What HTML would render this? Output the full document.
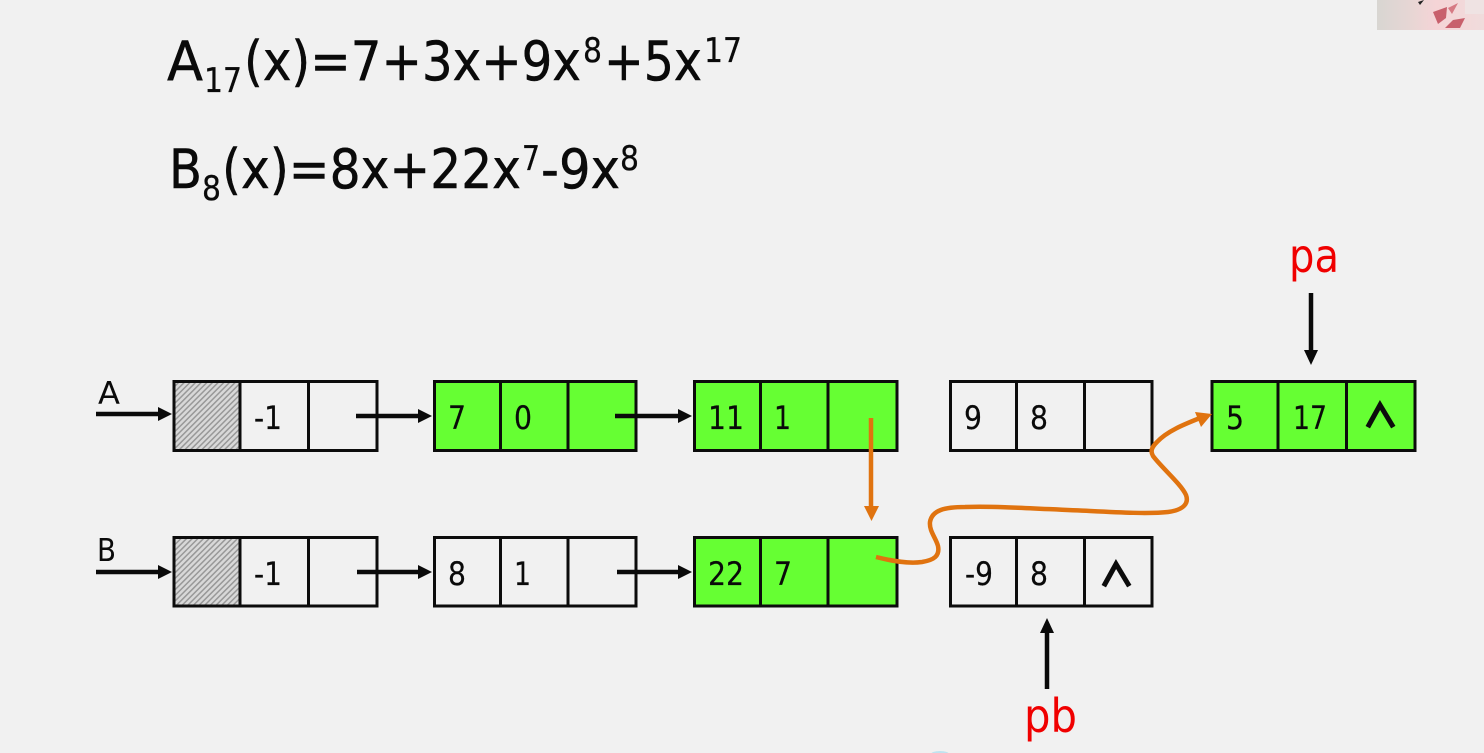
<!DOCTYPE html>
<html><head><meta charset="utf-8"><style>
html,body{margin:0;padding:0;background:#f1f1f1;overflow:hidden}
svg{display:block;filter:blur(0.35px)}
text{font-family:"DejaVu Sans","Liberation Sans",sans-serif;fill:#0a0a0a}
.c{font-size:32px;stroke:#0a0a0a;stroke-width:.2px}
.m{font-size:54px;stroke:#0a0a0a;stroke-width:.5px}
.s{font-size:34px;stroke:#0a0a0a;stroke-width:.3px}
</style></head><body>
<svg width="1484" height="753" viewBox="0 0 1484 753" xmlns="http://www.w3.org/2000/svg">
<defs>
<pattern id="h" width="4" height="4" patternUnits="userSpaceOnUse" patternTransform="rotate(-45)">
<rect width="4" height="4" fill="#d8d8d8"/><rect width="4" height="1.5" fill="#989898"/>
</pattern>
<linearGradient id="ph" x1="0" x2="1" y1="0" y2="0">
<stop offset="0" stop-color="#d8d6d2"/><stop offset=".3" stop-color="#e6d6d4"/><stop offset=".55" stop-color="#f5d4d6"/><stop offset="1" stop-color="#f0dcdc"/>
</linearGradient>
</defs>
<rect width="1484" height="753" fill="#f1f1f1"/>

<!-- photo corner -->
<rect x="1377" y="0" width="107" height="30" fill="url(#ph)"/>
<path d="M1433 12 L1447 7 L1446 18 L1438 24Z" fill="#c8606c"/>
<path d="M1445 28 L1453 20 L1465 18 L1460 28Z" fill="#c8606c"/>
<path d="M1448 8 L1458 3 L1452 14Z" fill="#d67a84"/>
<path d="M1418 2 L1424 0 L1420 5Z" fill="#222"/>
<rect x="1465" y="0" width="19" height="14" fill="#efe3e3"/>

<!-- equations -->
<g>
<text class="m" x="167" y="80" textLength="36" lengthAdjust="spacingAndGlyphs">A</text>
<text class="s" x="204" y="92" textLength="38" lengthAdjust="spacingAndGlyphs">17</text>
<text class="m" x="244" y="80" textLength="337" lengthAdjust="spacingAndGlyphs">(x)=7+3x+9x</text>
<text class="s" x="583" y="62" textLength="19" lengthAdjust="spacingAndGlyphs">8</text>
<text class="m" x="604" y="80" textLength="98" lengthAdjust="spacingAndGlyphs">+5x</text>
<text class="s" x="704" y="62" textLength="38" lengthAdjust="spacingAndGlyphs">17</text>

<text class="m" x="169" y="188" textLength="33" lengthAdjust="spacingAndGlyphs">B</text>
<text class="s" x="202" y="200" textLength="19" lengthAdjust="spacingAndGlyphs">8</text>
<text class="m" x="222" y="188" textLength="299" lengthAdjust="spacingAndGlyphs">(x)=8x+22x</text>
<text class="s" x="522" y="170" textLength="18" lengthAdjust="spacingAndGlyphs">7</text>
<text class="m" x="541" y="188" textLength="79" lengthAdjust="spacingAndGlyphs">-9x</text>
<text class="s" x="620" y="170" textLength="19" lengthAdjust="spacingAndGlyphs">8</text>
</g>

<!-- fills -->
<rect x="174" y="382" width="66" height="68" fill="url(#h)"/>
<rect x="174" y="538" width="66" height="67" fill="url(#h)"/>
<rect x="434" y="381" width="202" height="70" fill="#66ff33"/>
<rect x="694" y="381" width="203" height="70" fill="#66ff33"/>
<rect x="694" y="537" width="203" height="69" fill="#66ff33"/>
<rect x="1212" y="381" width="203" height="70" fill="#66ff33"/>

<!-- node outlines -->
<g fill="none" stroke="#0c0c0c" stroke-width="3">
<path d="M174 381.500H377V450.500H174ZM240 381.500V450.500M308.500 381.500V450.500"/>
<path d="M434.500 381.500H636V450.500H434.500ZM500.500 381.500V450.500M568 381.500V450.500"/>
<path d="M694.500 381.500H897V450.500H694.500ZM760.500 381.500V450.500M828 381.500V450.500"/>
<path d="M950.500 381.500H1152V450.500H950.500ZM1016.500 381.500V450.500M1084.500 381.500V450.500"/>
<path d="M1212 381.500H1415V450.500H1212ZM1278 381.500V450.500M1346.500 381.500V450.500"/>
<path d="M174 537.500H377V606H174ZM240 537.500V606M308.500 537.500V606"/>
<path d="M434.500 537.500H636V606H434.500ZM500.500 537.500V606M568 537.500V606"/>
<path d="M694.500 537.500H897V606H694.500ZM760.500 537.500V606M828 537.500V606"/>
<path d="M950.500 537.500H1152V606H950.500ZM1016.500 537.500V606M1084.500 537.500V606"/>
</g>

<!-- cell text -->
<g>
<text class="c" x="254" y="429" textLength="28" lengthAdjust="spacingAndGlyphs">-1</text>
<text class="c" x="448" y="429" textLength="18" lengthAdjust="spacingAndGlyphs">7</text>
<text class="c" x="514" y="429" textLength="18" lengthAdjust="spacingAndGlyphs">0</text>
<text class="c" x="708" y="429" textLength="36" lengthAdjust="spacingAndGlyphs">11</text>
<text class="c" x="774" y="429" textLength="17" lengthAdjust="spacingAndGlyphs">1</text>
<text class="c" x="964" y="429" textLength="18" lengthAdjust="spacingAndGlyphs">9</text>
<text class="c" x="1030" y="429" textLength="18" lengthAdjust="spacingAndGlyphs">8</text>
<text class="c" x="1226" y="429" textLength="18" lengthAdjust="spacingAndGlyphs">5</text>
<text class="c" x="1293" y="429" textLength="34" lengthAdjust="spacingAndGlyphs">17</text>
<text class="c" x="254" y="585" textLength="28" lengthAdjust="spacingAndGlyphs">-1</text>
<text class="c" x="448" y="585" textLength="18" lengthAdjust="spacingAndGlyphs">8</text>
<text class="c" x="514" y="585" textLength="17" lengthAdjust="spacingAndGlyphs">1</text>
<text class="c" x="708" y="585" textLength="36" lengthAdjust="spacingAndGlyphs">22</text>
<text class="c" x="774" y="585" textLength="18" lengthAdjust="spacingAndGlyphs">7</text>
<text class="c" x="965" y="585" textLength="28" lengthAdjust="spacingAndGlyphs">-9</text>
<text class="c" x="1030" y="585" textLength="18" lengthAdjust="spacingAndGlyphs">8</text>
<text x="98" y="404" font-size="31" textLength="22" lengthAdjust="spacingAndGlyphs">A</text>
<text x="97" y="561" font-size="31" textLength="19" lengthAdjust="spacingAndGlyphs">B</text>
</g>

<!-- carets -->
<g fill="none" stroke="#0c0c0c" stroke-width="5" stroke-linecap="square">
<path d="M1369 425L1380 405L1392 425"/>
<path d="M1105 584L1116 564L1128 584"/>
</g>

<!-- black arrows -->
<g stroke="#0a0a0a" stroke-width="4.500" fill="none">
<path d="M96 414H162"/>
<path d="M96 572H162"/>
<path d="M356 416H422"/>
<path d="M615 416H682"/>
<path d="M357 572H422"/>
<path d="M617 572H682"/>
<path d="M1311 293V352"/>
<path d="M1047 689V632"/>
</g>
<g fill="#0a0a0a">
<path d="M158 407L172 414L158 421Z"/>
<path d="M158 565L172 572L158 579Z"/>
<path d="M418 409L432 416L418 423Z"/>
<path d="M678 409L692 416L678 423Z"/>
<path d="M418 565L432 572L418 579Z"/>
<path d="M678 565L692 572L678 579Z"/>
<path d="M1304 350L1311 365L1318 350Z"/>
<path d="M1040 633L1047 618L1054 633Z"/>
</g>

<!-- orange -->
<g stroke="#e0730f" fill="none" stroke-width="4.500">
<path d="M871 418V508"/>
<path d="M876 557C892 561 908 564 922 562C934 560 940 556 938 546C936 538 929 531 930 522C932 510 945 507 965 507C1000 506 1040 509 1090 511C1120 512.500 1150 514 1168 512C1184 510 1189 503 1186 495C1181 484 1162 468 1153 456C1150 451 1152 447 1157 442C1167 431 1185 424 1200 418"/>
</g>
<path d="M864 506H879L871.500 521Z" fill="#e0730f"/>
<path d="M1195 412L1212 414L1201 427Z" fill="#e0730f"/>

<!-- labels -->
<text x="1289" y="272" font-size="46" textLength="50" lengthAdjust="spacingAndGlyphs" style="fill:#f00000">pa</text>
<text x="1024" y="732" font-size="46" textLength="53" lengthAdjust="spacingAndGlyphs" style="fill:#f00000">pb</text>

<ellipse cx="940" cy="754" rx="9" ry="3" fill="#bfe3f0"/>
</svg>
</body></html>
